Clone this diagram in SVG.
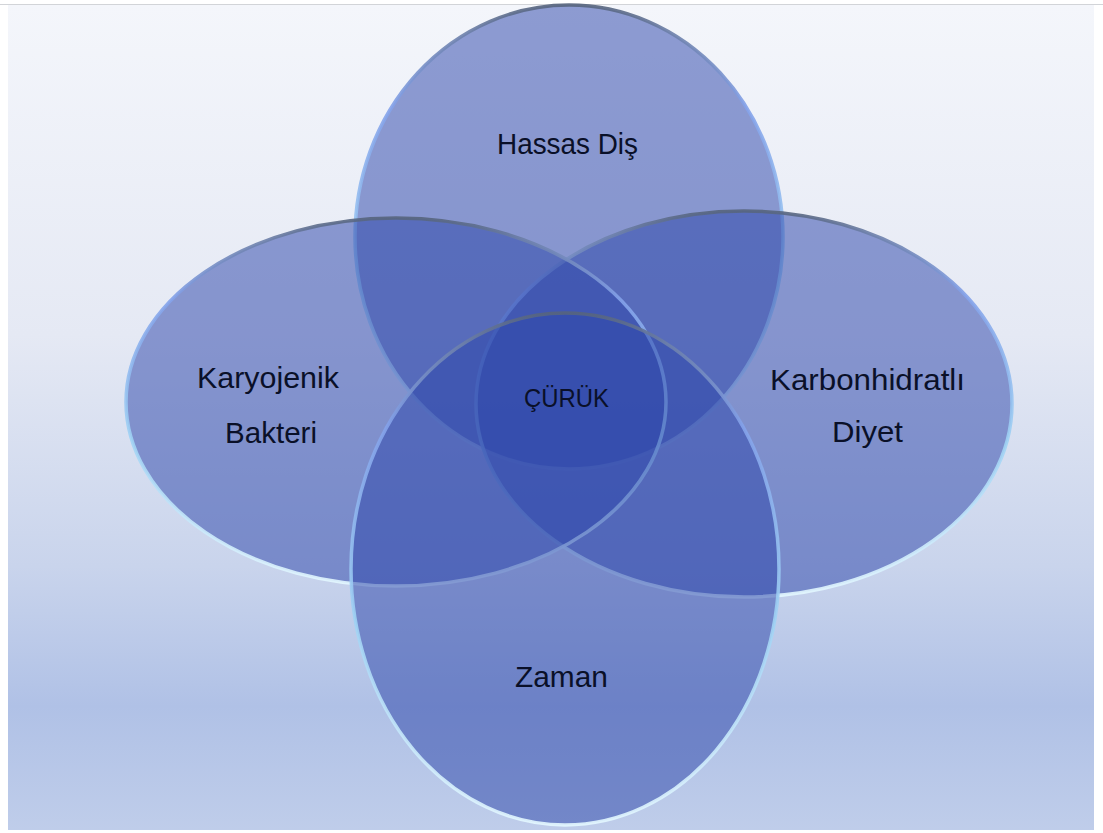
<svg xmlns="http://www.w3.org/2000/svg" width="1103" height="833" viewBox="0 0 1103 833">
  <defs>
    <linearGradient id="bg" x1="0" y1="0" x2="0" y2="1">
      <stop offset="0" stop-color="#f4f6fb"/>
      <stop offset="0.4" stop-color="#e5e9f4"/>
      <stop offset="0.68" stop-color="#c9d4ec"/>
      <stop offset="0.85" stop-color="#b0c1e6"/>
      <stop offset="1" stop-color="#bfcdea"/>
    </linearGradient>
    <linearGradient id="rim" x1="0" y1="0" x2="0" y2="1">
      <stop offset="0" stop-color="#56647d"/>
      <stop offset="0.06" stop-color="#6d80aa"/>
      <stop offset="0.22" stop-color="#84a2ea"/>
      <stop offset="0.6" stop-color="#9fd2f4"/>
      <stop offset="1" stop-color="#e4f8ff"/>
    </linearGradient>
  </defs>
  <style>
    .shape { fill: #2e46ab; fill-opacity: 0.52; }
    .edge { fill: none; stroke: url(#rim); stroke-width: 3.5; stroke-opacity: 0.9; }
    .lbl { font-family: "Liberation Sans", Arial, sans-serif; font-size: 29px; fill: #0a1028; text-anchor: middle; }
    .center { font-size: 25px; }
  </style>

  <rect x="0" y="0" width="1103" height="833" fill="#ffffff"/>
  <rect x="8" y="5" width="1086" height="825" fill="url(#bg)"/>
  <line x1="0" y1="4.5" x2="1103" y2="4.5" stroke="#d2d4d8" stroke-width="1"/>

  <g id="node-hassas-dis">
    <ellipse class="shape" cx="569" cy="237" rx="214" ry="232"/>
    <ellipse class="edge" cx="569" cy="237" rx="214" ry="232"/>
    <text class="lbl" x="567.5" y="154" textLength="141" lengthAdjust="spacingAndGlyphs">Hassas Diş</text>
  </g>

  <g id="node-karbonhidratli-diyet">
    <ellipse class="shape" cx="744" cy="404" rx="268" ry="193"/>
    <ellipse class="edge" cx="744" cy="404" rx="268" ry="193"/>
    <text class="lbl" x="867.5" y="390" textLength="195" lengthAdjust="spacingAndGlyphs">Karbonhidratlı</text>
    <text class="lbl" x="867.5" y="442" textLength="71" lengthAdjust="spacingAndGlyphs">Diyet</text>
  </g>

  <g id="node-karyojenik-bakteri">
    <ellipse class="shape" cx="396" cy="402" rx="270" ry="184"/>
    <ellipse class="edge" cx="396" cy="402" rx="270" ry="184"/>
    <text class="lbl" x="268" y="388" textLength="142" lengthAdjust="spacingAndGlyphs">Karyojenik</text>
    <text class="lbl" x="271" y="443" textLength="92" lengthAdjust="spacingAndGlyphs">Bakteri</text>
  </g>

  <g id="node-zaman">
    <ellipse class="shape" cx="565" cy="569" rx="214" ry="256"/>
    <ellipse class="edge" cx="565" cy="569" rx="214" ry="256"/>
    <text class="lbl" x="561.5" y="687" textLength="93" lengthAdjust="spacingAndGlyphs">Zaman</text>
  </g>

  <g id="node-curuk">
    <text class="lbl center" x="566.5" y="407" textLength="85" lengthAdjust="spacingAndGlyphs">ÇÜRÜK</text>
  </g>

  <g id="connectors"></g>
</svg>
